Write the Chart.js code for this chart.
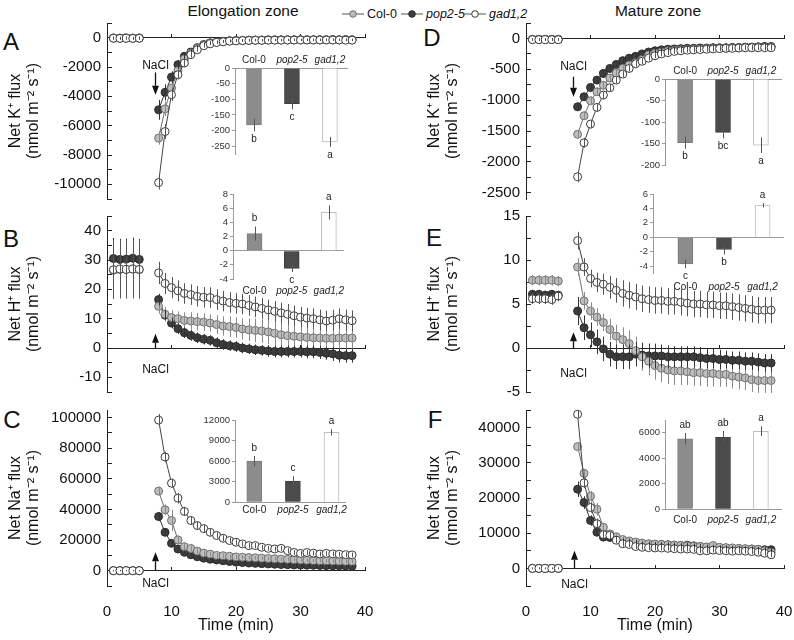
<!DOCTYPE html>
<html>
<head>
<meta charset="utf-8">
<script src="https://cdn.jsdelivr.net/npm/chart.js@4.4.1/dist/chart.umd.min.js"></script>
<style>
  body { margin: 0; background: #fff; width: 794px; height: 640px; position: relative; overflow: hidden;
         font-family: "Liberation Sans", Arial, sans-serif; color: #111; }
  canvas { position: absolute; }
  .t { position: absolute; transform: translate(-50%, -50%); white-space: nowrap; line-height: 1; }
  .letter { font-size: 24px; }
  .zone { font-size: 15.5px; }
  .leg { position: absolute; top: 7px; font-size: 12.5px; display: flex; align-items: center; white-space: nowrap; }
  .leg svg { margin-right: 3px; }
  .leg i { font-style: italic; }
</style>
</head>
<body>
<div class="t zone" style="left:243px;top:11px">Elongation zone</div>
<div class="t zone" style="left:658px;top:11px">Mature zone</div>
<div class="leg" style="left:342px"><svg width="22" height="10"><line x1="0" y1="5" x2="22" y2="5" stroke="#555"/><circle cx="11" cy="5" r="3.3" fill="#bdbdbd" stroke="#6e6e6e"/></svg>Col-0</div>
<div class="leg" style="left:401px"><svg width="22" height="10"><line x1="0" y1="5" x2="22" y2="5" stroke="#555"/><circle cx="11" cy="5" r="3.3" fill="#3d3d3d" stroke="#2a2a2a"/></svg><i>pop2-5</i></div>
<div class="leg" style="left:464px"><svg width="22" height="10"><line x1="0" y1="5" x2="22" y2="5" stroke="#555"/><circle cx="11" cy="5" r="3.3" fill="#fff" stroke="#3a3a3a"/></svg><i>gad1,2</i></div>

<div class="t letter" style="left:11px;top:42px">A</div>
<div class="t letter" style="left:11px;top:239px">B</div>
<div class="t letter" style="left:12px;top:420px">C</div>
<div class="t letter" style="left:432px;top:38px">D</div>
<div class="t letter" style="left:434px;top:238px">E</div>
<div class="t letter" style="left:435px;top:420px">F</div>

<canvas id="pA" width="375" height="196" style="left:0;top:13px"></canvas>
<canvas id="pB" width="375" height="196" style="left:0;top:206px"></canvas>
<canvas id="pC" width="375" height="240" style="left:0;top:400px"></canvas>
<canvas id="pD" width="375" height="196" style="left:419px;top:13px"></canvas>
<canvas id="pE" width="375" height="196" style="left:419px;top:206px"></canvas>
<canvas id="pF" width="375" height="240" style="left:419px;top:400px"></canvas>

<canvas id="iA" width="160" height="112" style="left:195px;top:50px"></canvas>
<canvas id="iB" width="160" height="118" style="left:195px;top:182px"></canvas>
<canvas id="iC" width="160" height="120" style="left:195px;top:405px"></canvas>
<canvas id="iD" width="165" height="118" style="left:625px;top:55px"></canvas>
<canvas id="iE" width="175" height="118" style="left:615px;top:182px"></canvas>
<canvas id="iF" width="165" height="122" style="left:625px;top:405px"></canvas>

<script>
// sampling times (min); NaCl added at ~7.5 min
const time = [1, 2, 3, 4, 5, 8, 9, 10, 11, 12, 13, 14, 15, 16, 17, 18, 19, 20, 21, 22, 23, 24, 25, 26, 27, 28, 29, 30, 31, 32, 33, 34, 35, 36, 37, 38];
const timeTicks = [0, 10, 20, 30, 40];

// A: K+ flux, elongation zone
const kElongCol = [-30, -40, -30, -40, -30, -6850, -4850, -3440, -2250, -1450, -1050, -720, -500, -380, -310, -260, -220, -200, -190, -180, -170, -170, -160, -160, -160, -150, -150, -150, -150, -150, -150, -140, -150, -150, -140, -150];
const kElongPop = [-20, -30, -20, -30, -20, -4920, -3730, -2690, -1840, -1270, -980, -680, -470, -350, -290, -250, -210, -190, -180, -170, -160, -160, -150, -150, -150, -150, -140, -140, -140, -140, -140, -140, -130, -140, -130, -140];
const kElongGad = [-40, -50, -40, -50, -40, -9880, -6400, -3890, -2530, -1730, -1160, -820, -550, -420, -330, -280, -240, -220, -200, -190, -180, -180, -170, -170, -170, -160, -160, -160, -160, -160, -160, -160, -160, -160, -170, -170];
const kElongColErr = [90, 90, 90, 90, 90, 450, 500, 400, 300, 250, 200, 150, 120, 100, 90, 80, 80, 80, 80, 70, 70, 70, 70, 70, 70, 70, 70, 70, 70, 70, 70, 70, 70, 70, 70, 70];
const kElongPopErr = [90, 90, 90, 90, 90, 680, 550, 400, 300, 220, 180, 140, 110, 100, 90, 80, 80, 80, 80, 70, 70, 70, 70, 70, 70, 70, 70, 70, 70, 70, 70, 70, 70, 70, 70, 70];
const kElongGadErr = [90, 90, 90, 90, 90, 470, 510, 420, 320, 260, 200, 150, 120, 100, 90, 80, 80, 80, 80, 70, 70, 70, 70, 70, 70, 70, 70, 70, 70, 70, 70, 70, 70, 70, 70, 70];
const kElongTicks = [-10000, -8000, -6000, -4000, -2000, 0];
const kElongMinor = [-11000, -9000, -7000, -5000, -3000, -1000, 1000];

// B: H+ flux, elongation zone
const hElongCol = [26.5, 26.8, 26.8, 26.9, 26.7, 14.2, 11.5, 10.4, 10.0, 9.4, 9.2, 9.0, 8.8, 8.5, 8.0, 7.5, 7.3, 7.0, 6.5, 6.2, 6.0, 5.8, 5.5, 5.0, 4.5, 4.2, 4.0, 3.8, 3.6, 3.5, 3.4, 3.3, 3.3, 3.4, 3.4, 3.4];
const hElongPop = [30.5, 30.2, 30.3, 30.6, 30.2, 16.5, 11.2, 8.5, 6.6, 5.2, 4.3, 3.5, 3.0, 2.6, 1.8, 1.2, 0.8, 0.5, 0.0, -0.3, -0.6, -0.8, -1.0, -1.2, -1.2, -1.2, -1.2, -1.2, -1.3, -1.3, -1.5, -1.8, -2.0, -2.5, -2.6, -2.6];
const hElongGad = [26.7, 26.9, 26.8, 26.9, 26.8, 25.6, 22.0, 20.6, 19.5, 18.6, 18.2, 17.6, 17.3, 17.2, 16.5, 16.0, 15.5, 15.2, 15.0, 14.5, 14.0, 13.5, 13.0, 12.5, 12.0, 11.5, 11.0, 10.5, 10.2, 10.0, 9.6, 9.2, 9.5, 10.0, 9.6, 9.3];
const hElongColErr = [9, 9, 9, 9, 9, 2.5, 2.5, 2.5, 2.5, 2.8, 3, 3, 3, 3, 3.2, 3.3, 3.5, 3.5, 3.6, 3.8, 4, 4, 4.2, 4.2, 4.3, 4.3, 4.4, 4.5, 4.5, 4.5, 4.5, 4.5, 4.5, 4.5, 4.5, 4.5];
const hElongPopErr = [7, 7, 7, 7, 7, 2, 1.8, 1.8, 1.8, 1.8, 1.8, 1.8, 1.8, 1.8, 1.8, 1.8, 1.8, 1.8, 1.8, 1.8, 1.8, 1.8, 2, 2, 2, 2, 2, 2, 2.2, 2.2, 2.2, 2.2, 2.4, 2.4, 2.4, 2.4];
const hElongGadErr = [10, 10, 10, 10, 10, 3.8, 3.6, 3.6, 3.6, 3.5, 3.5, 3.5, 3.5, 3.5, 3.5, 3.5, 3.5, 3.5, 3.5, 3.5, 3.5, 3.5, 3.5, 3.5, 3.5, 3.5, 3.5, 3.5, 3.5, 3.5, 3.5, 3.5, 3.5, 3.5, 3.5, 3.5];
const hElongTicks = [-10, 0, 10, 20, 30, 40];
const hElongMinor = [-15, -5, 5, 15, 25, 35, 45];

// C: Na+ flux, elongation zone
const naElongCol = [0, 0, 0, 0, 0, 52000, 39800, 32800, 20100, 15700, 14500, 12800, 11500, 10800, 10000, 9800, 9400, 9000, 8800, 8600, 8400, 8200, 8000, 7800, 7600, 7400, 7200, 7000, 6800, 6600, 6500, 6400, 6300, 6200, 6100, 6000];
const naElongPop = [0, 0, 0, 0, 0, 35400, 25100, 17900, 14200, 12000, 10400, 9100, 8200, 7500, 7000, 6500, 6000, 5600, 5300, 5000, 4800, 4600, 4400, 4200, 4000, 3900, 3800, 3700, 3600, 3500, 3400, 3300, 3200, 3200, 3100, 3000];
const naElongGad = [0, 0, 0, 0, 0, 98400, 74300, 57200, 47400, 38700, 32800, 29500, 27500, 25100, 23000, 21200, 19700, 18600, 17500, 16400, 16400, 15300, 14600, 14200, 14600, 13100, 11900, 11300, 11900, 11500, 10900, 11300, 11000, 10800, 10500, 10300];
const naElongColErr = [300, 300, 300, 300, 300, 3000, 3500, 7000, 3000, 2500, 2000, 1800, 1600, 1500, 1500, 1500, 1400, 1400, 1300, 1300, 1300, 1200, 1200, 1200, 1200, 1200, 1200, 1200, 1200, 1200, 1200, 1200, 1200, 1200, 1200, 1200];
const naElongPopErr = [300, 300, 300, 300, 300, 3000, 2500, 2000, 1500, 1200, 1000, 1000, 900, 900, 900, 900, 900, 800, 800, 800, 800, 800, 800, 800, 800, 800, 800, 800, 800, 800, 800, 800, 800, 800, 800, 800];
const naElongGadErr = [300, 300, 300, 300, 300, 4000, 3500, 3000, 3500, 3000, 3000, 2500, 2500, 2200, 2000, 2000, 1800, 1800, 1800, 1800, 1800, 1600, 1600, 1600, 1600, 1600, 1600, 1600, 1600, 1600, 1600, 1600, 1600, 1600, 1600, 1600];
const naElongTicks = [0, 20000, 40000, 60000, 80000, 100000];
const naElongMinor = [-10000, 10000, 30000, 50000, 70000, 90000];

// D: K+ flux, mature zone
const kMatureCol = [-15, -15, -15, -15, -15, -1553, -1252, -1010, -864, -760, -640, -560, -486, -430, -390, -340, -270, -240, -220, -200, -190, -185, -180, -175, -170, -165, -160, -160, -160, -155, -150, -150, -150, -145, -145, -140];
const kMaturePop = [-15, -15, -15, -15, -15, -1107, -945, -793, -675, -567, -486, -421, -360, -320, -290, -250, -220, -200, -185, -175, -170, -165, -160, -160, -155, -155, -150, -150, -150, -145, -145, -140, -140, -135, -130, -130];
const kMatureGad = [-20, -20, -20, -20, -20, -2240, -1689, -1387, -1117, -917, -799, -675, -578, -486, -410, -370, -320, -280, -250, -230, -210, -200, -190, -185, -180, -175, -170, -165, -160, -160, -155, -150, -150, -150, -150, -150];
const kMatureColErr = [20, 20, 20, 20, 20, 60, 70, 70, 60, 60, 50, 50, 45, 45, 40, 40, 40, 40, 35, 35, 35, 35, 35, 35, 35, 35, 35, 35, 35, 35, 35, 35, 35, 35, 35, 35];
const kMaturePopErr = [20, 20, 20, 20, 20, 70, 60, 60, 55, 50, 45, 45, 40, 40, 40, 35, 35, 35, 35, 35, 35, 35, 35, 35, 35, 35, 35, 35, 35, 35, 35, 35, 35, 35, 35, 35];
const kMatureGadErr = [20, 20, 20, 20, 20, 90, 80, 70, 70, 60, 60, 55, 50, 50, 45, 45, 40, 40, 40, 40, 40, 40, 40, 40, 40, 40, 40, 40, 40, 40, 40, 40, 40, 40, 40, 40];
const kMatureTicks = [-2500, -2000, -1500, -1000, -500, 0];
const kMatureMinor = [-2250, -1750, -1250, -750, -250, 250];

// E: H+ flux, mature zone
const hMatureCol = [7.7, 7.7, 7.7, 7.7, 7.6, 9.2, 5.35, 4.2, 3.5, 2.9, 2.1, 1.35, 0.95, 0.5, -0.3, -1.0, -1.5, -2.0, -2.3, -2.5, -2.6, -2.6, -2.7, -2.8, -2.8, -2.9, -2.9, -3.0, -3.0, -3.2, -3.3, -3.4, -3.6, -3.7, -3.7, -3.7];
const hMaturePop = [6.1, 6.1, 6.0, 6.1, 6.0, 4.2, 2.3, 1.5, 0.7, -0.1, -0.7, -1.0, -1.0, -1.0, -0.7, -0.8, -0.9, -0.9, -0.9, -1.0, -1.0, -1.0, -1.0, -1.0, -1.1, -1.2, -1.2, -1.3, -1.3, -1.4, -1.4, -1.5, -1.5, -1.6, -1.7, -1.7];
const hMatureGad = [5.6, 5.6, 5.6, 5.5, 5.9, 12.2, 9.2, 7.9, 7.45, 7.25, 6.9, 6.55, 6.2, 6.0, 5.8, 5.6, 5.5, 5.4, 5.4, 5.3, 5.3, 5.2, 5.1, 5.0, 5.0, 4.9, 4.9, 4.8, 4.8, 4.7, 4.6, 4.5, 4.4, 4.3, 4.3, 4.3];
const hMatureColErr = [0.6, 0.6, 0.6, 0.6, 0.6, 1.0, 1.0, 1.0, 1.0, 1.0, 1.2, 1.3, 1.4, 1.5, 1.6, 1.6, 1.6, 1.6, 1.6, 1.6, 1.6, 1.6, 1.5, 1.5, 1.5, 1.5, 1.5, 1.4, 1.4, 1.4, 1.4, 1.4, 1.4, 1.4, 1.4, 1.4];
const hMaturePopErr = [0.5, 0.5, 0.5, 0.5, 0.5, 1.6, 1.4, 1.4, 1.4, 1.4, 1.4, 1.4, 1.4, 1.4, 1.4, 1.4, 1.4, 1.4, 1.3, 1.3, 1.2, 1.2, 1.2, 1.2, 1.2, 1.1, 1.1, 1.1, 1.0, 1.0, 1.0, 1.0, 1.0, 1.0, 1.0, 1.0];
const hMatureGadErr = [0.6, 0.6, 0.6, 0.6, 0.6, 1.0, 1.0, 1.0, 1.1, 1.2, 1.3, 1.4, 1.5, 1.5, 1.5, 1.5, 1.5, 1.5, 1.5, 1.5, 1.5, 1.5, 1.5, 1.5, 1.5, 1.5, 1.5, 1.5, 1.5, 1.5, 1.5, 1.5, 1.5, 1.5, 1.5, 1.5];
const hMatureTicks = [-5, 0, 5, 10, 15];
const hMatureMinor = [-2.5, 2.5, 7.5, 12.5];

// F: Na+ flux, mature zone
const naMatureCol = [0, 0, 0, 0, 0, 34600, 27000, 20500, 16800, 11700, 9800, 9000, 8200, 7800, 7500, 7200, 7000, 6900, 6800, 6700, 6600, 6500, 6400, 6300, 6200, 6100, 6500, 6000, 5900, 5800, 5700, 5600, 5500, 5400, 5000, 4600];
const naMaturePop = [0, 0, 0, 0, 0, 22500, 18700, 13600, 10300, 8900, 8800, 8200, 7600, 7600, 7300, 7000, 6900, 6800, 6800, 6700, 6600, 6500, 6600, 6400, 6200, 6000, 5900, 5800, 5800, 5700, 5600, 5500, 5500, 5400, 5300, 5300];
const naMatureGad = [0, 0, 0, 0, 0, 43800, 24300, 17300, 12700, 9600, 9400, 8000, 7000, 6800, 6200, 6000, 5900, 5800, 5800, 5700, 5600, 5500, 5500, 5400, 5000, 5000, 5200, 5100, 5000, 4900, 5000, 4900, 4800, 4600, 4300, 3900];
const naMatureColErr = [200, 200, 200, 200, 200, 1300, 1300, 1500, 1800, 1200, 1000, 900, 800, 800, 700, 700, 700, 700, 700, 700, 700, 700, 700, 700, 700, 700, 700, 700, 700, 700, 700, 700, 700, 700, 700, 700];
const naMaturePopErr = [200, 200, 200, 200, 200, 2200, 1800, 1500, 1200, 1200, 1100, 1000, 900, 800, 800, 700, 700, 700, 700, 700, 700, 700, 700, 700, 700, 700, 700, 700, 700, 700, 700, 700, 700, 700, 700, 700];
const naMatureGadErr = [200, 200, 200, 200, 200, 1000, 1500, 1500, 1500, 1200, 1000, 900, 800, 800, 700, 700, 700, 700, 700, 700, 700, 700, 700, 700, 700, 700, 700, 700, 700, 700, 700, 700, 700, 700, 700, 700];
const naMatureTicks = [0, 10000, 20000, 30000, 40000];
const naMatureMinor = [-5000, 5000, 15000, 25000, 35000, 45000];

// insets: mean flux after NaCl
const genotypes = ['Col-0', 'pop2-5', 'gad1,2'];
const kElongBar = [-182, -114, -236];
const kElongBarErr = [20, 18, 16];
const kElongSig = ['b', 'c', 'a'];
const kElongBarTicks = [-250, -200, -150, -100, -50, 0];
const hElongBar = [2.4, -2.5, 5.4];
const hElongBarErr = [1.0, 0.5, 1.0];
const hElongSig = ['b', 'c', 'a'];
const hElongBarTicks = [-4, -2, 0, 2, 4, 6, 8];
const naElongBar = [6000, 3100, 10200];
const naElongBarErr = [750, 700, 450];
const naElongSig = ['b', 'c', 'a'];
const naElongBarTicks = [0, 3000, 6000, 9000, 12000];
const kMatureBar = [-148, -124, -154];
const kMatureBarErr = [14, 14, 18];
const kMatureSig = ['b', 'bc', 'a'];
const kMatureBarTicks = [-200, -150, -100, -50, 0];
const hMatureBar = [-3.7, -1.7, 4.45];
const hMatureBarErr = [0.6, 0.7, 0.3];
const hMatureSig = ['c', 'b', 'a'];
const hMatureBarTicks = [-4, -2, 0, 2, 4, 6];
const naMatureBar = [5530, 5650, 6120];
const naMatureBarErr = [450, 500, 380];
const naMatureSig = ['ab', 'ab', 'a'];
const naMatureBarTicks = [0, 2000, 4000, 6000];

Chart.defaults.font.family = '"Liberation Sans", Arial, sans-serif';
Chart.defaults.color = '#111';

const look = {
  col: { fill: '#bdbdbd', border: '#6e6e6e', line: '#6e6e6e', err: '#8a8a8a' },
  pop: { fill: '#3d3d3d', border: '#2a2a2a', line: '#333333', err: '#333333' },
  gad: { fill: '#ffffff', border: '#3a3a3a', line: '#444444', err: '#555555' }
};

// keep the plot areas exactly where the layout padding puts them
function noEdgePad(s) {
  s.paddingTop = 0; s.paddingBottom = 0; s.paddingLeft = 0; s.paddingRight = 0;
}

// vertical error bars, drawn from the y scale
const errorBars = {
  id: 'errorBars',
  afterDatasetsDraw(chart) {
    const ctx = chart.ctx, y = chart.scales.y;
    chart.data.datasets.forEach((ds, di) => {
      if (!ds.errors) return;
      const meta = chart.getDatasetMeta(di);
      ctx.save();
      ctx.strokeStyle = ds.errorColor;
      ctx.lineWidth = 1;
      meta.data.forEach((el, i) => {
        const v = ds.data[i].y, e = ds.errors[i];
        if (!e) return;
        const x = Math.round(el.x) + 0.5;
        ctx.beginPath();
        ctx.moveTo(x, y.getPixelForValue(v + e));
        ctx.lineTo(x, y.getPixelForValue(v - e));
        ctx.stroke();
      });
      ctx.restore();
    });
  }
};

// "NaCl" label with arrow, in data units
const naclMark = {
  id: 'nacl',
  afterDatasetsDraw(chart, args, o) {
    if (!o || o.x == null) return;
    const { ctx, scales: { x, y } } = chart;
    const px = Math.round(x.getPixelForValue(o.x)) + 0.5;
    const y0 = y.getPixelForValue(o.from), y1 = y.getPixelForValue(o.to);
    const dir = Math.sign(y1 - y0), head = 9;
    ctx.save();
    ctx.fillStyle = '#111';
    ctx.strokeStyle = '#111';
    ctx.font = '12px "Liberation Sans", Arial';
    ctx.textAlign = 'center';
    ctx.textBaseline = 'middle';
    ctx.fillText('NaCl', px, y.getPixelForValue(o.textY));
    ctx.lineWidth = 1.3;
    ctx.beginPath();
    ctx.moveTo(px, y0);
    ctx.lineTo(px, y1 - dir * head);
    ctx.stroke();
    ctx.beginPath();
    ctx.moveTo(px, y1);
    ctx.lineTo(px - 3.5, y1 - dir * head);
    ctx.lineTo(px + 3.5, y1 - dir * head);
    ctx.closePath();
    ctx.fill();
    ctx.restore();
  }
};

// significance letters for the inset bars
const sigLetters = {
  id: 'sig',
  afterDatasetsDraw(chart, args, o) {
    const ds = chart.data.datasets[0], meta = chart.getDatasetMeta(0), y = chart.scales.y, ctx = chart.ctx;
    ctx.save();
    ctx.font = '10px "Liberation Sans", Arial';
    ctx.fillStyle = '#222';
    ctx.textAlign = 'center';
    ctx.textBaseline = 'middle';
    meta.data.forEach((bar, i) => {
      const v = ds.data[i].y, e = ds.errors[i], up = v >= 0;
      ctx.fillText(o.letters[i], bar.x, y.getPixelForValue(up ? v + e : v - e) + (up ? -8 : 8));
    });
    ctx.restore();
  }
};

function series(label, values, errs, st, order) {
  return {
    label, order,
    data: time.map((t, i) => ({ x: t, y: values[i] })),
    errors: errs,
    errorColor: st.err,
    borderColor: st.line,
    borderWidth: 1,
    pointRadius: 4,
    pointBackgroundColor: st.fill,
    pointBorderColor: st.border,
    pointBorderWidth: 1,
    tension: 0,
    fill: false,
    clip: false,
    segment: { borderColor: c => (c.p1.parsed.x - c.p0.parsed.x > 2 ? 'rgba(0,0,0,0)' : undefined) }
  };
}

function fluxChart(id, p) {
  const scales = {
    x: {
      type: 'linear', min: 0, max: 40, position: { y: 0 },
      afterBuildTicks: s => { s.ticks = timeTicks.map(v => ({ value: v })); },
      afterFit: noEdgePad,
      ticks: { display: false },
      grid: { drawOnChartArea: false, tickLength: -4, color: '#222' },
      border: { color: '#222' }
    },
    y: {
      type: 'linear', min: p.min, max: p.max,
      afterFit: s => { s.width = 107; noEdgePad(s); },
      afterBuildTicks: s => { s.ticks = p.ticks.concat(p.minor).sort((a, b) => a - b).map(v => ({ value: v })); },
      ticks: { autoSkip: false, padding: 11, font: { size: 15 }, color: '#111',
               callback: v => (p.ticks.includes(v) ? String(v) : '') },
      grid: { drawOnChartArea: false, tickLength: -5, color: '#222' },
      border: { color: '#222' },
      title: { display: true, text: p.title, font: { size: 16, lineHeight: 1.15 }, color: '#111', padding: { top: 6 } }
    }
  };
  if (p.bottom) {
    scales.x2 = {
      type: 'linear', min: 0, max: 40, position: 'bottom',
      afterBuildTicks: s => { s.ticks = timeTicks.map(v => ({ value: v })); },
      afterFit: s => { s.height = 54; noEdgePad(s); },
      grid: { display: false, drawTicks: false },
      border: { display: false },
      ticks: { autoSkip: false, maxRotation: 0, padding: 17, font: { size: 15 }, color: '#111', callback: v => String(v) },
      title: { display: true, text: 'Time (min)', font: { size: 16 }, color: '#111', padding: { top: 0, bottom: 5 } }
    };
  }
  return new Chart(document.getElementById(id), {
    type: 'line',
    data: {
      datasets: [
        series('Col-0', p.col[0], p.col[1], look.col, 2),
        series('pop2-5', p.pop[0], p.pop[1], look.pop, 3),
        series('gad1,2', p.gad[0], p.gad[1], look.gad, 1)
      ]
    },
    options: {
      responsive: false, animation: false, devicePixelRatio: 1,
      layout: { autoPadding: false, padding: { top: 10, right: 10, bottom: p.bottom ? 0 : 10, left: 0 } },
      plugins: { legend: { display: false }, tooltip: { enabled: false }, nacl: p.nacl },
      scales
    },
    plugins: [errorBars, naclMark]
  });
}

function insetChart(id, q) {
  return new Chart(document.getElementById(id), {
    type: 'bar',
    data: {
      datasets: [{
        data: q.values.map((v, i) => ({ x: i + 1, y: v })),
        errors: q.errors,
        errorColor: '#555',
        backgroundColor: ['#8c8c8c', '#4b4b4b', '#ffffff'],
        borderColor: ['#7a7a7a', '#3f3f3f', '#bdbdbd'],
        borderWidth: 1,
        barThickness: 15
      }]
    },
    options: {
      responsive: false, animation: false, devicePixelRatio: 1,
      layout: { autoPadding: false, padding: q.pad },
      plugins: { legend: { display: false }, tooltip: { enabled: false }, sig: { letters: q.letters } },
      scales: {
        x: {
          type: 'linear', min: q.xmin, max: q.xmax, offset: false, position: { y: 0 },
          afterFit: noEdgePad,
          ticks: { display: false }, grid: { display: false, drawTicks: false }, border: { color: '#9a9a9a' }
        },
        x2: {
          type: 'linear', min: q.xmin, max: q.xmax, offset: false, position: q.labelPos,
          afterBuildTicks: s => { s.ticks = [1, 2, 3].map(v => ({ value: v })); },
          afterFit: s => { s.height = q.labelH; noEdgePad(s); },
          grid: { display: false, drawTicks: false }, border: { display: false },
          ticks: {
            autoSkip: false, maxRotation: 0, padding: q.labelPad, color: '#222',
            font: c => ({ size: 10, style: c.index > 0 ? 'italic' : 'normal' }),
            callback: v => genotypes[v - 1]
          }
        },
        y: {
          type: 'linear', min: q.min, max: q.max,
          afterFit: s => { s.width = q.yW; noEdgePad(s); },
          afterBuildTicks: s => { s.ticks = q.ticks.map(v => ({ value: v })); },
          ticks: { autoSkip: false, padding: 2, font: { size: 9.5 }, color: '#333', callback: v => String(v) },
          grid: { drawOnChartArea: false, tickLength: 3, color: '#9a9a9a' },
          border: { color: '#9a9a9a' }
        }
      }
    },
    plugins: [errorBars, sigLetters]
  });
}

const kTitle = ['Net K\u207A flux', '(nmol m\u207B\u00B2 s\u207B\u00B9)'];
const hTitle = ['Net H\u207A flux', '(nmol m\u207B\u00B2 s\u207B\u00B9)'];
const naTitle = ['Net Na\u207A flux', '(nmol m\u207B\u00B2 s\u207B\u00B9)'];

fluxChart('pA', { min: -11000, max: 1000, ticks: kElongTicks, minor: kElongMinor, title: kTitle,
  col: [kElongCol, kElongColErr], pop: [kElongPop, kElongPopErr], gad: [kElongGad, kElongGadErr],
  nacl: { x: 7.4, textY: -1900, from: -2370, to: -3900 } });
fluxChart('pB', { min: -15, max: 45, ticks: hElongTicks, minor: hElongMinor, title: hTitle,
  col: [hElongCol, hElongColErr], pop: [hElongPop, hElongPopErr], gad: [hElongGad, hElongGadErr],
  nacl: { x: 7.5, textY: -7.4, from: 0, to: 4.9 } });
fluxChart('pC', { min: -10000, max: 105000, ticks: naElongTicks, minor: naElongMinor, title: naTitle, bottom: true,
  col: [naElongCol, naElongColErr], pop: [naElongPop, naElongPopErr], gad: [naElongGad, naElongGadErr],
  nacl: { x: 7.5, textY: -8700, from: 0, to: 12000 } });
fluxChart('pD', { min: -2600, max: 250, ticks: kMatureTicks, minor: kMatureMinor, title: kTitle,
  col: [kMatureCol, kMatureColErr], pop: [kMaturePop, kMaturePopErr], gad: [kMatureGad, kMatureGadErr],
  nacl: { x: 7.3, textY: -460, from: -621, to: -945 } });
fluxChart('pE', { min: -5, max: 15, ticks: hMatureTicks, minor: hMatureMinor, title: hTitle,
  col: [hMatureCol, hMatureColErr], pop: [hMaturePop, hMaturePopErr], gad: [hMatureGad, hMatureGadErr],
  nacl: { x: 7.3, textY: -2.9, from: 0, to: 1.8 } });
fluxChart('pF', { min: -5000, max: 45000, ticks: naMatureTicks, minor: naMatureMinor, title: naTitle, bottom: true,
  col: [naMatureCol, naMatureColErr], pop: [naMaturePop, naMaturePopErr], gad: [naMatureGad, naMatureGadErr],
  nacl: { x: 7.4, textY: -4500, from: 0, to: 5000 } });

insetChart('iA', { values: kElongBar, errors: kElongBarErr, letters: kElongSig, ticks: kElongBarTicks,
  min: -275, max: 0, xmin: 0.5, xmax: 3.45, yW: 40, labelPos: 'top', labelH: 18, labelPad: 2,
  pad: { top: 0, right: 8, bottom: 8, left: 0 } });
insetChart('iB', { values: hElongBar, errors: hElongBarErr, letters: hElongSig, ticks: hElongBarTicks,
  min: -4, max: 8, xmin: 0.42, xmax: 3.38, yW: 38, labelPos: 'bottom', labelH: 21, labelPad: 6,
  pad: { top: 12, right: 12, bottom: 0, left: 0 } });
insetChart('iC', { values: naElongBar, errors: naElongBarErr, letters: naElongSig, ticks: naElongBarTicks,
  min: 0, max: 12000, xmin: 0.5, xmax: 3.35, yW: 40, labelPos: 'bottom', labelH: 22.7, labelPad: 2,
  pad: { top: 15, right: 10, bottom: 0, left: 0 } });
insetChart('iD', { values: kMatureBar, errors: kMatureBarErr, letters: kMatureSig, ticks: kMatureBarTicks,
  min: -200, max: 0, xmin: 0.47, xmax: 3.53, yW: 40, labelPos: 'top', labelH: 24, labelPad: 2,
  pad: { top: 0, right: 9, bottom: 8, left: 0 } });
insetChart('iE', { values: hMatureBar, errors: hMatureBarErr, letters: hMatureSig, ticks: hMatureBarTicks,
  min: -5, max: 6, xmin: 0.16, xmax: 3.53, yW: 38, labelPos: 'bottom', labelH: 26.7, labelPad: 7.7,
  pad: { top: 12, right: 7, bottom: 0, left: 0 } });
insetChart('iF', { values: naMatureBar, errors: naMatureBarErr, letters: naMatureSig, ticks: naMatureBarTicks,
  min: 0, max: 7000, xmin: 0.47, xmax: 3.53, yW: 40, labelPos: 'bottom', labelH: 17.7, labelPad: 4.7,
  pad: { top: 15, right: 9, bottom: 0, left: 0 } });
</script>
</body>
</html>
